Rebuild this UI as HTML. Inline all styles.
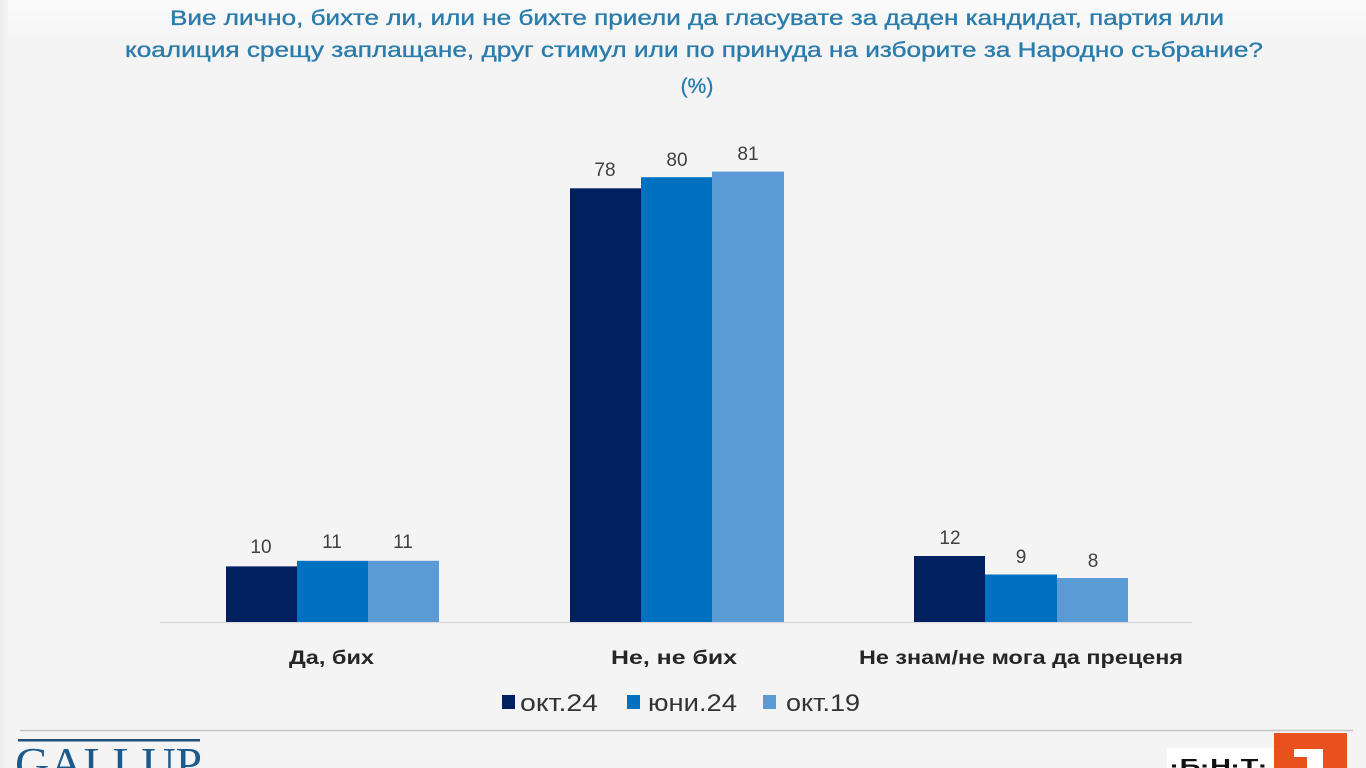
<!DOCTYPE html>
<html>
<head>
<meta charset="utf-8">
<style>
html,body{margin:0;padding:0;}
body{width:1366px;height:768px;overflow:hidden;background:#f4f4f4;}
svg{display:block;}
</style>
</head>
<body>
<svg width="1366" height="768" viewBox="0 0 1366 768" xmlns="http://www.w3.org/2000/svg">
  <defs>
    <linearGradient id="bg" x1="0" y1="0" x2="0" y2="1">
      <stop offset="0" stop-color="#fbfbfb"/>
      <stop offset="1" stop-color="#f4f4f4"/>
    </linearGradient>
    <linearGradient id="lg" x1="0" y1="0" x2="1" y2="0">
      <stop offset="0" stop-color="#ebebeb"/>
      <stop offset="1" stop-color="#f4f4f4"/>
    </linearGradient>
  </defs>
  <rect x="0" y="0" width="1366" height="768" fill="#f4f4f4"/>
  <rect x="0" y="0" width="1366" height="40" fill="url(#bg)"/>
  <rect x="0" y="0" width="8" height="768" fill="url(#lg)"/>

  <!-- Title -->
  <g font-family="Liberation Sans, DejaVu Sans, sans-serif" font-size="21" fill="#2b7cab" stroke="#2b7cab" stroke-width="0.35">
    <text x="170" y="25" textLength="1054" lengthAdjust="spacingAndGlyphs">Вие лично, бихте ли, или не бихте приели да гласувате за даден кандидат, партия или</text>
    <text x="125" y="57" textLength="1138" lengthAdjust="spacingAndGlyphs">коалиция срещу заплащане, друг стимул или по принуда на изборите за Народно събрание?</text>
    <text x="697" y="93" text-anchor="middle">(%)</text>
  </g>

  <!-- Axis line -->
  <line x1="160" y1="622.5" x2="1192" y2="622.5" stroke="#d9d9d9" stroke-width="1.5"/>

  <!-- Bars group 1 -->
  <rect x="226" y="566.4" width="71" height="55.6" fill="#002060"/>
  <rect x="297" y="560.8" width="71" height="61.2" fill="#0070c0"/>
  <rect x="368" y="560.8" width="71" height="61.2" fill="#5b9bd5"/>
  <!-- Bars group 2 -->
  <rect x="570" y="188.3" width="71" height="433.7" fill="#002060"/>
  <rect x="641" y="177.2" width="71" height="444.8" fill="#0070c0"/>
  <rect x="712" y="171.6" width="72" height="450.4" fill="#5b9bd5"/>
  <!-- Bars group 3 -->
  <rect x="914" y="556" width="71" height="66" fill="#002060"/>
  <rect x="985" y="574.5" width="72" height="47.5" fill="#0070c0"/>
  <rect x="1057" y="578" width="71" height="44" fill="#5b9bd5"/>

  <!-- Value labels -->
  <g font-family="Liberation Sans, DejaVu Sans, sans-serif" font-size="19" fill="#404040" text-anchor="middle">
    <text x="261" y="553">10</text>
    <text x="332" y="548">11</text>
    <text x="403" y="548">11</text>
    <text x="605" y="176">78</text>
    <text x="677" y="166">80</text>
    <text x="748" y="160">81</text>
    <text x="950" y="544">12</text>
    <text x="1021" y="563">9</text>
    <text x="1093" y="567">8</text>
  </g>

  <!-- Category labels -->
  <g font-family="Liberation Sans, DejaVu Sans, sans-serif" font-size="19" font-weight="bold" fill="#262626">
    <text x="289" y="664" textLength="85" lengthAdjust="spacingAndGlyphs">Да, бих</text>
    <text x="611" y="664" textLength="126" lengthAdjust="spacingAndGlyphs">Не, не бих</text>
    <text x="859" y="664" textLength="324" lengthAdjust="spacingAndGlyphs">Не знам/не мога да преценя</text>
  </g>

  <!-- Legend -->
  <rect x="502" y="695" width="13" height="14" fill="#002060"/>
  <rect x="627" y="695" width="13" height="14" fill="#0070c0"/>
  <rect x="763" y="695" width="13" height="14" fill="#5b9bd5"/>
  <g font-family="Liberation Sans, DejaVu Sans, sans-serif" font-size="24" fill="#333333">
    <text x="520" y="711" textLength="78" lengthAdjust="spacingAndGlyphs">окт.24</text>
    <text x="648" y="711" textLength="89" lengthAdjust="spacingAndGlyphs">юни.24</text>
    <text x="786" y="711" textLength="74" lengthAdjust="spacingAndGlyphs">окт.19</text>
  </g>

  <!-- Footer separator -->
  <line x1="20" y1="730.5" x2="1353" y2="730.5" stroke="#c4c4c4" stroke-width="1.5"/>

  <!-- GALLUP logo -->
  <rect x="18" y="739" width="182" height="2.5" fill="#1f4e79"/>
  <text x="15" y="779" font-family="Liberation Serif, DejaVu Serif, serif" font-size="46" fill="#1d5a8c" textLength="187" lengthAdjust="spacingAndGlyphs">GALLUP</text>

  <!-- BNT logo -->
  <rect x="1167" y="748" width="108" height="20" fill="#ffffff"/>
  <text x="1170" y="773" font-family="Liberation Sans, DejaVu Sans, sans-serif" font-size="20" font-weight="bold" fill="#111111" textLength="98" lengthAdjust="spacingAndGlyphs">·Б·Н·Т·</text>
  <rect x="1274" y="733" width="73" height="35" fill="#e8501e"/>
  <polygon points="1294,749 1323,749 1323,768 1307,768 1307,757 1294,757" fill="#ffffff"/>
</svg>
</body>
</html>
